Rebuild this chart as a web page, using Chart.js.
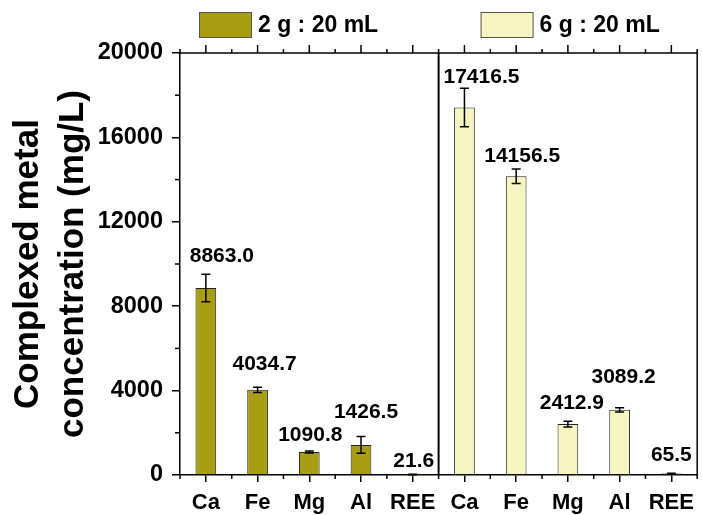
<!DOCTYPE html>
<html>
<head>
<meta charset="utf-8">
<script src="https://cdn.jsdelivr.net/npm/chart.js@4.4.1/dist/chart.umd.min.js"></script>
<style>
  body { margin: 0; background: #fff; }
  canvas { display: block; }
</style>
</head>
<body>
<canvas id="chart" width="702" height="515"></canvas>
<script>
// data
const elements = ["Ca", "Fe", "Mg", "Al", "REE"];
const ratioLabels = ["2 g : 20 mL", "6 g : 20 mL"];
const conc2g = [8863.0, 4034.7, 1090.8, 1426.5, 21.6];
const conc6g = [17416.5, 14156.5, 2412.9, 3089.2, 65.5];
const err2g = [650, 120, 50, 400, 10];
const err6g = [910, 340, 140, 100, 20];
const yTicks = [0, 4000, 8000, 12000, 16000, 20000];

// label nudges in px (dx from bar centre, dy from error bar top)
const labelNudge = [
  [16, -18], [7, -23], [1, -16], [5, -24], [1, -13],
  [17, -11], [6, -13], [4, -18], [4, -31], [0, -18]
];

const olive = "#a89e14";
const cream = "#f8f4c2";
const FONT = "'Liberation Sans', Arial, sans-serif";
Chart.defaults.font.family = FONT;
Chart.defaults.color = "#000";

const labels = elements.concat(elements);
const empty = elements.map(() => null);
const errAll = err2g.concat(err6g);

const extras = {
  id: "extras",
  afterDatasetsDraw(chart) {
    const { ctx, scales: { x, y } } = chart;
    ctx.save();
    ctx.strokeStyle = "#000";
    ctx.lineWidth = 1.5;
    chart.data.datasets.forEach((ds, di) => {
      const meta = chart.getDatasetMeta(di);
      ds.data.forEach((v, i) => {
        if (v === null) return;
        const bx = meta.data[i].x;
        const top = y.getPixelForValue(v + errAll[i]);
        const bot = y.getPixelForValue(Math.max(0, v - errAll[i]));
        ctx.beginPath();
        ctx.moveTo(bx, top); ctx.lineTo(bx, bot);
        ctx.moveTo(bx - 4.5, top); ctx.lineTo(bx + 4.5, top);
        ctx.moveTo(bx - 4.5, bot); ctx.lineTo(bx + 4.5, bot);
        ctx.stroke();
        ctx.fillStyle = "#000";
        ctx.font = "bold 21px " + FONT;
        ctx.textAlign = "center";
        ctx.textBaseline = "middle";
        ctx.fillText(v.toFixed(1), bx + labelNudge[i][0], top + labelNudge[i][1]);
      });
    });
    ctx.restore();
  },
  afterDraw(chart) {
    const { ctx, chartArea: a, scales: { x, y } } = chart;
    ctx.save();
    ctx.strokeStyle = "#000";
    ctx.lineWidth = 1.5;
    const seg = (x1, y1, x2, y2) => { ctx.beginPath(); ctx.moveTo(x1, y1); ctx.lineTo(x2, y2); ctx.stroke(); };
    // frame top and right
    seg(a.left, a.top, a.right, a.top);
    seg(a.right, a.top, a.right, a.bottom);
    // top major ticks, minor ticks top/bottom
    for (let i = 0; i < labels.length; i++) {
      const px = x.getPixelForValue(i);
      seg(px, a.top, px, a.top - 8);
    }
    for (let i = 0; i <= labels.length; i++) {
      const px = x.getPixelForValue(i - 0.5);
      seg(px, a.top, px, a.top - 4);
      seg(px, a.bottom, px, a.bottom + 4);
    }
    // y minor ticks
    for (let v = 2000; v < 20000; v += 4000) {
      const py = y.getPixelForValue(v);
      seg(a.left, py, a.left - 5, py);
    }
    // divider between the two ratios
    const dx = x.getPixelForValue(elements.length - 0.5);
    ctx.lineWidth = 2;
    seg(dx, a.top, dx, a.bottom);

    // legend
    const fills = [olive, cream];
    const boxX = [a.left + 19, dx + 42];
    ctx.lineWidth = 1;
    ctx.strokeStyle = "#555";
    ctx.font = "bold 23px " + FONT;
    ctx.textAlign = "left";
    ctx.textBaseline = "middle";
    ratioLabels.forEach((t, k) => {
      ctx.fillStyle = fills[k];
      ctx.fillRect(boxX[k], 12, 53, 26);
      ctx.strokeRect(boxX[k] + 0.5, 12.5, 52, 25);
      ctx.fillStyle = "#000";
      ctx.fillText(t, boxX[k] + 59, 26);
    });
    ctx.restore();
  }
};

new Chart(document.getElementById("chart"), {
  type: "bar",
  data: {
    labels: labels,
    datasets: [
      {
        label: ratioLabels[0],
        data: conc2g.concat(empty),
        backgroundColor: olive,
        borderColor: "#222",
        borderWidth: 1
      },
      {
        label: ratioLabels[1],
        data: empty.concat(conc6g),
        backgroundColor: cream,
        borderColor: "#222",
        borderWidth: 1
      }
    ]
  },
  options: {
    responsive: false,
    animation: false,
    grouped: false,
    barPercentage: 0.4,
    categoryPercentage: 1,
    layout: { padding: { top: 53, right: 1, left: 0, bottom: 0 } },
    plugins: { legend: { display: false }, tooltip: { enabled: false } },
    scales: {
      x: {
        afterFit(scale) { scale.height = 40; },
        grid: { offset: false, drawOnChartArea: false, tickLength: 7, color: "#000", lineWidth: 1.5 },
        border: { display: true, color: "#000", width: 1.5 },
        ticks: { font: { size: 22, weight: "bold" }, color: "#000", padding: 8, autoSkip: false, maxRotation: 0 }
      },
      y: {
        min: 0,
        max: 20000,
        afterFit(scale) { scale.width = 180; },
        afterBuildTicks(scale) { scale.ticks = yTicks.map(v => ({ value: v })); },
        grid: { drawOnChartArea: false, tickLength: 8, color: "#000", lineWidth: 1.5 },
        border: { display: true, color: "#000", width: 1.5 },
        ticks: {
          font: { size: 23.5, weight: "bold" },
          color: "#000",
          padding: 9,
          callback: v => String(v)
        },
        title: {
          display: true,
          text: ["Complexed metal", "concentration (mg/L)"],
          font: { size: 35, weight: "bold", lineHeight: 1.28 },
          color: "#000",
          padding: { top: 6, bottom: 0 }
        }
      }
    }
  },
  plugins: [extras]
});
</script>
</body>
</html>
